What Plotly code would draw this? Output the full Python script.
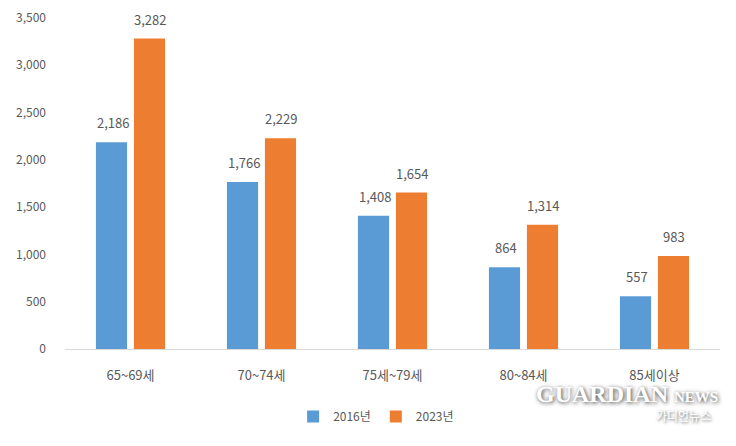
import plotly.graph_objects as go

categories = ["65~69세", "70~74세", "75세~79세", "80~84세", "85세이상"]
series_2016 = [2186, 1766, 1408, 864, 557]
series_2023 = [3282, 2229, 1654, 1314, 983]
series_names = ["2016년", "2023년"]
tick_vals = [0, 500, 1000, 1500, 2000, 2500, 3000, 3500]

FONT = "Noto Sans CJK KR, Noto Sans, sans-serif"
GRAY = "#595959"

fig = go.Figure()
fig.add_trace(go.Bar(
    x=categories, y=series_2016, name=series_names[0],
    marker=dict(color="#5B9BD5", line=dict(width=0)),
))
fig.add_trace(go.Bar(
    x=categories, y=series_2023, name=series_names[1],
    marker=dict(color="#ED7D31", line=dict(width=0)),
))

# value labels above bars
for vals, shift in ((series_2016, -18), (series_2023, 19)):
    for c, v in zip(categories, vals):
        fig.add_annotation(x=c, y=v, xref="x", yref="y", text=f"{v:,}",
                           showarrow=False, xanchor="center", yanchor="bottom",
                           xshift=shift, yshift=8,
                           font=dict(size=13, color=GRAY, family=FONT))

fig.update_layout(
    width=736, height=446,
    margin=dict(l=57, r=24, t=10, b=105, autoexpand=False),
    paper_bgcolor="white", plot_bgcolor="white",
    barmode="group", bargap=0.42, bargroupgap=0.18,
    font=dict(family=FONT, size=12, color=GRAY),
    showlegend=True,
    legend=dict(orientation="h", x=0.475, xanchor="center", y=-0.16, yanchor="top",
                font=dict(size=12, color=GRAY, family=FONT)),
)
fig.update_yaxes(range=[0, 3500], tickvals=tick_vals, tickformat=",d",
                 showgrid=False, zeroline=False, showline=False, automargin=False,
                 ticks="", ticklabelstandoff=18,
                 tickfont=dict(size=12, color=GRAY, family=FONT))
fig.update_xaxes(showline=True, linecolor="#D9D9D9", linewidth=1, ticks="",
                 showgrid=False, automargin=False, ticklabelstandoff=14,
                 tickfont=dict(size=13, color=GRAY, family=FONT))

fig.add_annotation(xref="paper", yref="paper", x=1.0, y=-0.09, xanchor="right", yanchor="top",
                   text="<b>GUARDIAN</b> <b><span style='font-size:15px'>NEWS</span></b>",
                   showarrow=False,
                   font=dict(family="Liberation Sans Narrow, Liberation Serif, serif", size=24,
                             color="white", shadow="1px 1px 4px rgba(0,0,0,0.8)"))
fig.add_annotation(xref="paper", yref="paper", x=0.99, y=-0.17, xanchor="right", yanchor="top",
                   text="가디언뉴스", showarrow=False,
                   font=dict(family=FONT, size=12, color="white",
                             shadow="1px 1px 3px rgba(0,0,0,0.7)"))

fig.write_html("out.html")
